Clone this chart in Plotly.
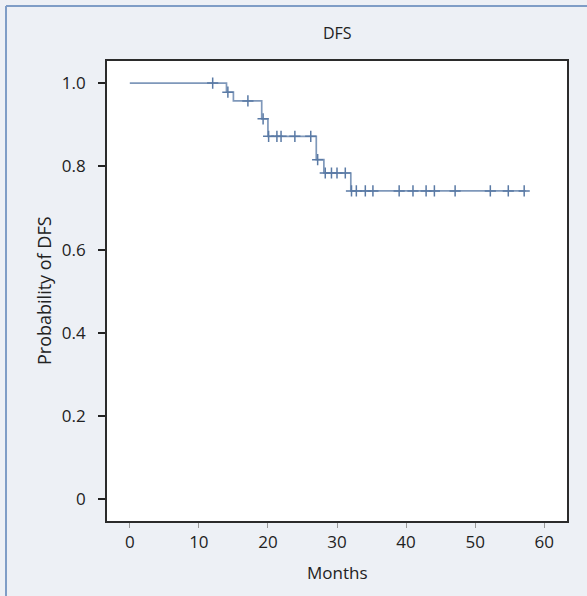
import numpy as np
import plotly.graph_objects as go

# Kaplan-Meier step data
step_times = [0, 14.0, 15.0, 19.1, 20.0, 27.0, 28.1, 32.0, 57.3]
step_surv = [1.0, 0.978, 0.957, 0.914, 0.872, 0.816, 0.784, 0.741, 0.741]

censor_times = [12.0, 14.2, 17.1, 19.3, 20.1, 21.3, 21.9, 23.9, 26.2, 27.2,
                28.3, 29.2, 30.0, 31.2, 32.1, 32.8, 34.1, 35.2, 39.0, 41.0,
                42.9, 44.1, 47.1, 52.2, 54.8, 57.1]

x_ticks = [0, 10, 20, 30, 40, 50, 60]
y_ticks = [0, 0.2, 0.4, 0.6, 0.8, 1.0]
y_ticktext = ["0", "0.2", "0.4", "0.6", "0.8", "1.0"]

# censor survival from step function
idx = np.searchsorted(np.array(step_times), np.array(censor_times), side="right") - 1
censor_surv = [step_surv[i] for i in idx]

FONT = "Open Sans"
fig = go.Figure()
fig.add_trace(go.Scatter(
    x=step_times, y=step_surv, mode="lines",
    line=dict(color="#7f98ba", width=1.7, shape="hv"),
    hoverinfo="skip", showlegend=False))
fig.add_trace(go.Scatter(
    x=censor_times, y=censor_surv, mode="markers",
    marker=dict(symbol="cross-thin-open", size=8, color="#5a7aa5",
                line=dict(color="#5a7aa5", width=1.5)),
    showlegend=False))

L, R, T, B = 107, 20, 61, 75
W, H = 587, 596
pw, ph = W - L - R, H - T - B

fig.update_layout(
    width=W, height=H,
    margin=dict(l=L, r=R, t=T, b=B),
    paper_bgcolor="#edf0f5", plot_bgcolor="white",
    font=dict(family=FONT, size=17, color="#222222"),
    xaxis=dict(range=[-3.3, 63.3], tickvals=x_ticks, ticks="outside",
               ticklen=5, tickcolor="#999999", showgrid=False, zeroline=False,
               showline=True, mirror=True, linecolor="#2b2b2b", linewidth=2),
    yaxis=dict(range=[-0.052, 1.053], tickvals=y_ticks,
               ticktext=[t + "\u00a0\u00a0" for t in y_ticktext],
               ticks="outside", ticklen=7, tickcolor="#222222", tickwidth=2,
               showgrid=False, zeroline=False,
               showline=True, mirror=True, linecolor="#2b2b2b", linewidth=2),
    annotations=[
        dict(text="DFS", xref="paper", yref="paper", x=0.5,
             y=1 + (T - 33) / ph, showarrow=False, yanchor="middle",
             font=dict(size=16)),
        dict(text="Months", xref="paper", yref="paper", x=0.5,
             y=-(572 - (H - B)) / ph, showarrow=False, yanchor="middle",
             font=dict(size=17)),
        dict(text="Probability of DFS", xref="paper", yref="paper",
             x=(44 - L) / pw, y=0.5, textangle=-90, showarrow=False,
             xanchor="center", yanchor="middle", font=dict(size=18)),
    ],
    shapes=[
        dict(type="line", xref="paper", yref="paper",
             x0=(6 - L) / pw, x1=(W + 5 - L) / pw,
             y0=1 + (T - 6) / ph, y1=1 + (T - 6) / ph,
             line=dict(color="#7f9dc6", width=2)),
        dict(type="line", xref="paper", yref="paper",
             x0=(6 - L) / pw, x1=(6 - L) / pw,
             y0=1 + (T - 6) / ph, y1=-(B + 5) / ph,
             line=dict(color="#7f9dc6", width=2)),
    ],
)

fig.write_html("out.html", config={"displayModeBar": False},
               post_script="document.body.style.margin='0';document.body.style.padding='0';")
